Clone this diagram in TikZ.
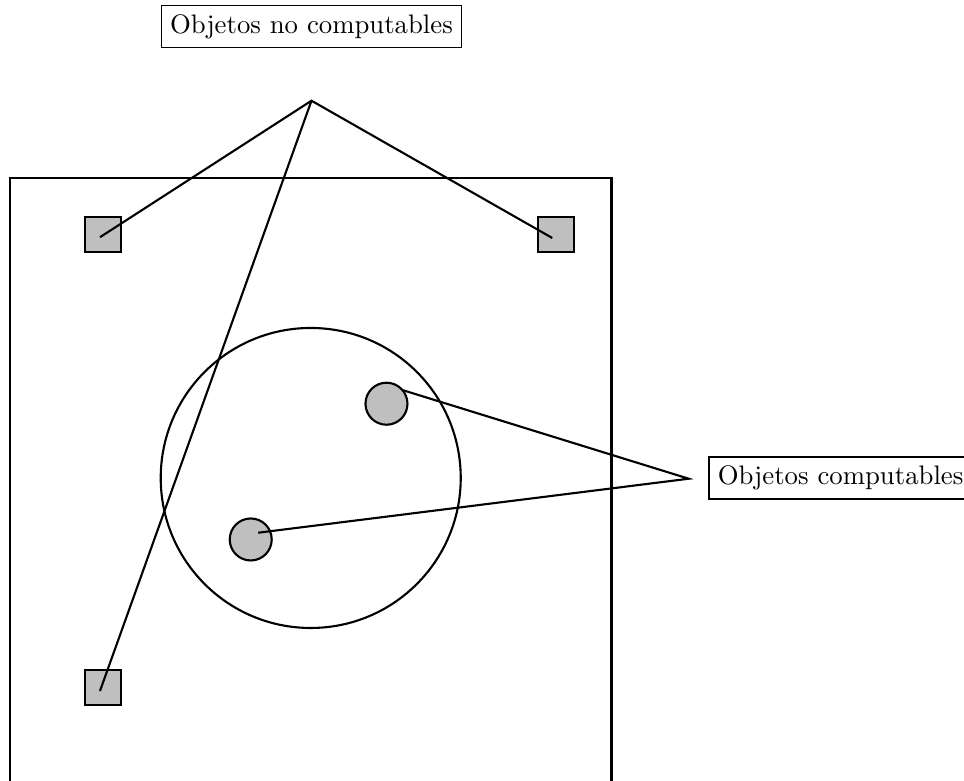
\documentclass[tikz,border=0pt]{standalone}
\begin{document}
\begin{tikzpicture}[
  shapeline/.style={thick},
  sqbox/.style={draw,thick,fill=lightgray,rectangle,minimum size=0.47cm,inner sep=0pt},
  dot/.style={draw,thick,fill=lightgray,circle,minimum size=0.56cm,inner sep=0pt},
  labelbox/.style={draw,semithick,rectangle,font=\fontsize{10.15}{12}\selectfont}
]
\useasboundingbox (-0.133,-0.027) rectangle (12.72,10.373);
% universe
\draw[shapeline] (0,-0.3) -- (0,8) -- (8.02,8) -- (8.02,-0.3);
\node[circle,draw,thick,minimum size=4cm,inner sep=0pt] (comp) at (4.01,4) {};
% non-computable objects
\node[sqbox] (s1) at (1.24,7.25) {};
\node[sqbox] (s2) at (7.28,7.25) {};
\node[sqbox] (s3) at (1.24,1.21) {};
% computable objects
\node[dot] (c1) at (5.02,4.99) {};
\node[dot] (c2) at (3.21,3.18) {};
% labels
\node[labelbox] (nc) at (4.02,10.02) {Objetos no computables};
\node[labelbox,anchor=west] (co) at (9.31,4) {Objetos computables};
% connector points
\coordinate (apexT) at (4.02,9.03);
\coordinate (apexR) at (9.05,3.99);
\coordinate (e1) at (1.2,7.21);
\coordinate (e2) at (7.23,7.2);
\coordinate (e3) at (1.2,1.16);
\coordinate (f1) at (5.24,5.17);
\coordinate (f2) at (3.31,3.27);
\draw[shapeline] (e1) -- (apexT) -- (e2);
\draw[shapeline] (apexT) -- (e3);
\draw[shapeline] (f1) -- (apexR) -- (f2);
\end{tikzpicture}
\end{document}
